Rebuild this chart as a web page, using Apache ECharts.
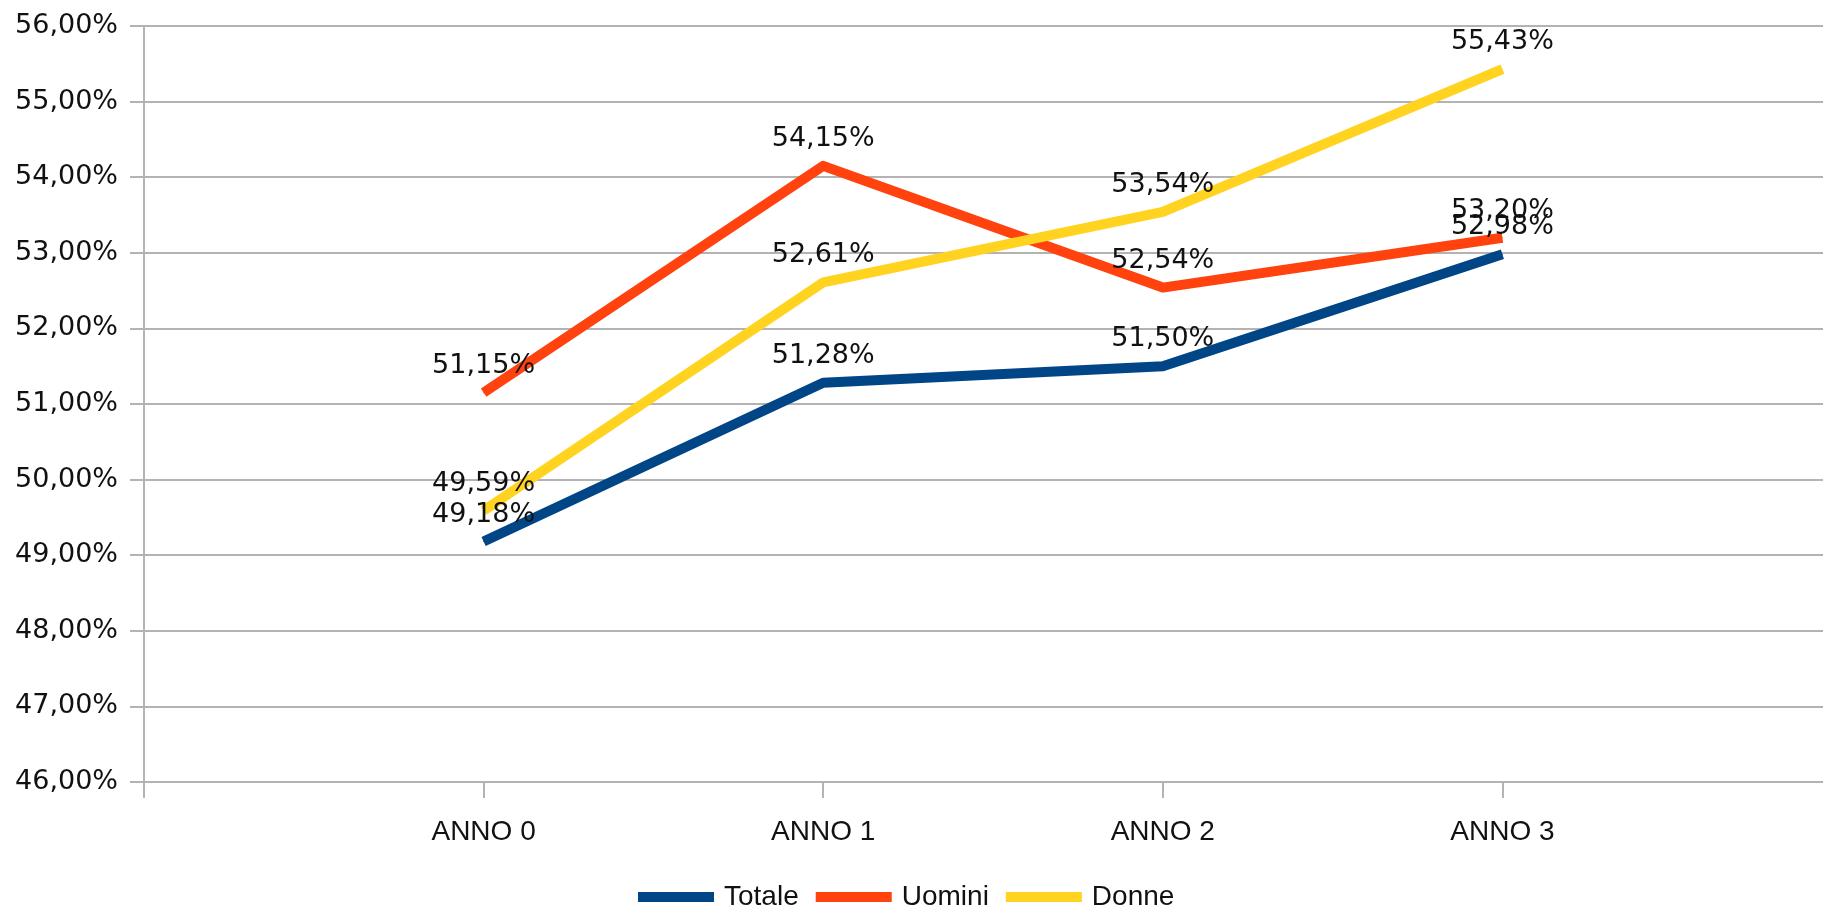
<!DOCTYPE html>
<html>
<head>
<meta charset="utf-8">
<script src="https://cdn.jsdelivr.net/npm/echarts@6/dist/echarts.min.js"></script>
<style>
  html, body { margin: 0; padding: 0; background: #fff; }
  #chart { width: 1823px; height: 912px; }
</style>
</head>
<body>
<div id="chart"></div>
<script>
// categorie (vuote ai bordi come nel grafico originale)
var categories = ['', 'ANNO 0', 'ANNO 1', 'ANNO 2', 'ANNO 3', ''];
var totale = [49.18, 51.28, 51.50, 52.98];
var uomini = [51.15, 54.15, 52.54, 53.20];
var donne = [49.59, 52.61, 53.54, 55.43];
var seriesNames = ['Totale', 'Uomini', 'Donne'];
var colors = ['#004586', '#ff420e', '#ffd320'];

function pad(arr) {
  return [null].concat(arr, [null]);
}
function pct(v) {
  return v.toFixed(2).replace('.', ',') + '%';
}

var chart = echarts.init(document.getElementById('chart'));

var series = [totale, uomini, donne].map(function (vals, i) {
  return {
    name: seriesNames[i],
    type: 'line',
    data: pad(vals),
    showSymbol: true,
    symbol: 'circle',
    symbolSize: 1,
    connectNulls: false,
    animation: false,
    lineStyle: { width: 10, color: colors[i], cap: 'butt', join: 'round' },
    itemStyle: { color: colors[i] },
    label: {
      show: true,
      position: 'top',
      distance: 13,
      color: '#111',
      fontFamily: 'DejaVu Sans',
      fontSize: 27,
      formatter: function (p) { return pct(p.value); }
    },
    labelLayout: { hideOverlap: false }
  };
});

chart.setOption({
  backgroundColor: '#ffffff',
  color: colors,
  grid: {
    left: 144,
    right: -19,
    top: 26,
    bottom: 130,
    outerBoundsMode: 'none'
  },
  legend: {
    data: seriesNames,
    left: 633,
    top: 878,
    icon: 'rect',
    itemWidth: 76,
    itemHeight: 10,
    itemGap: 17,
    textStyle: {
      color: '#111',
      fontFamily: 'Liberation Sans',
      fontSize: 28,
      padding: [0, 0, 0, 5]
    }
  },
  xAxis: {
    type: 'category',
    data: categories,
    boundaryGap: false,
    axisLine: { show: true, lineStyle: { color: '#b3b3b3', width: 2 } },
    axisTick: { show: true, length: 16, lineStyle: { color: '#b3b3b3', width: 2 } },
    axisLabel: {
      margin: 36,
      color: '#111',
      fontFamily: 'Liberation Sans',
      fontSize: 28
    },
    splitLine: { show: false }
  },
  yAxis: {
    type: 'value',
    min: 46,
    max: 56,
    interval: 1,
    axisLine: { show: true, lineStyle: { color: '#b3b3b3', width: 2 } },
    axisTick: { show: true, length: 14, lineStyle: { color: '#b3b3b3', width: 2 } },
    axisLabel: {
      margin: 26,
      color: '#111',
      fontFamily: 'DejaVu Sans',
      fontSize: 27,
      formatter: function (v) { return pct(v); }
    },
    splitLine: { show: true, lineStyle: { color: '#b3b3b3', width: 2 } }
  },
  series: series
});
</script>
</body>
</html>
